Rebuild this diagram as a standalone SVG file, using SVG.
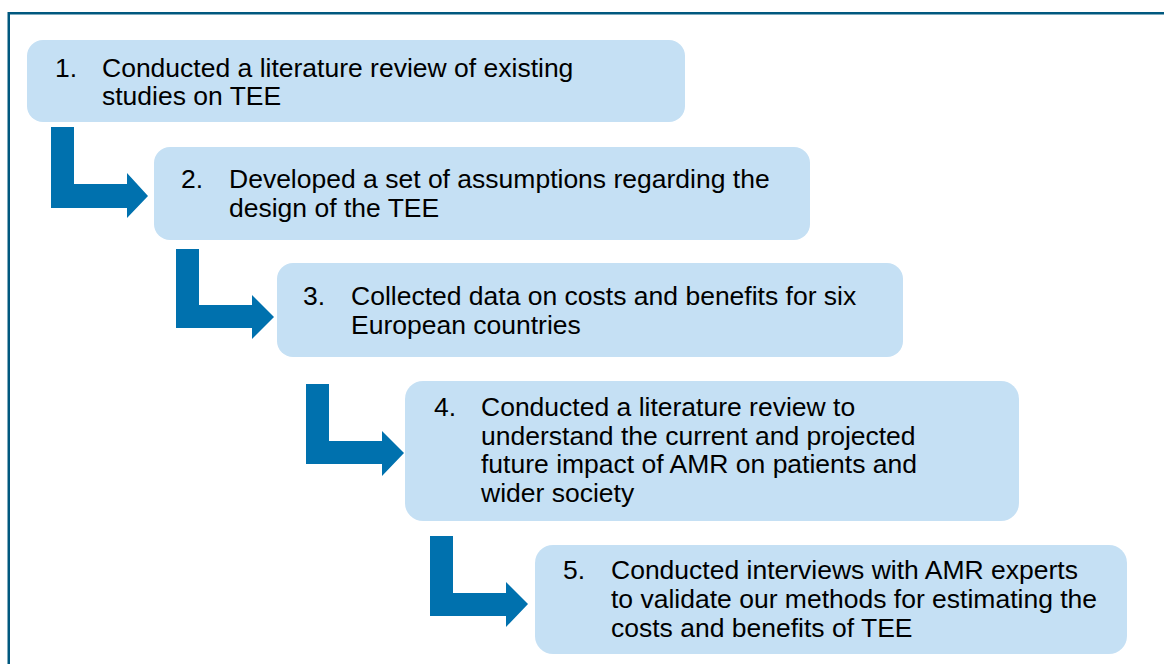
<svg xmlns="http://www.w3.org/2000/svg" width="1164" height="664" viewBox="0 0 1164 664">
  <style>
    .box { fill: #c5e0f4; }
    .t { font-family: "Liberation Sans", Arial, sans-serif; font-size: 26.5px; fill: #000; }
    .arrow { fill: #0071ae; }
  </style>
  <rect width="1164" height="664" fill="#ffffff"/>
  <rect x="8.75" y="13.25" width="1200" height="700" fill="none" stroke="#00587f" stroke-width="2.5"/>
  <g id="connectors">
    <polygon class="arrow" points="51,127 74,127 74,184 127,184 127,173 148,196 127,218 127,208 51,208"/>
    <polygon class="arrow" points="176,249 199,249 199,305 252,305 252,295 274,317 252,339 252,328 176,328"/>
    <polygon class="arrow" points="306,384 329,384 329,441 382,441 382,431 404,453 382,476 382,464 306,464"/>
    <polygon class="arrow" points="430,536 453,536 453,593 506,593 506,582 528,604 506,627 506,616 430,616"/>
  </g>
  <g id="step1">
    <rect class="box" x="27" y="40" width="658" height="82" rx="16"/>
    <text class="t" x="55" y="77">1.</text>
    <text class="t" x="102" y="77">Conducted a literature review of existing</text>
    <text class="t" x="102" y="105">studies on TEE</text>
  </g>
  <g id="step2">
    <rect class="box" x="154" y="147" width="656" height="93" rx="16"/>
    <text class="t" x="181" y="188">2.</text>
    <text class="t" x="229" y="188">Developed a set of assumptions regarding the</text>
    <text class="t" x="229" y="216.5">design of the TEE</text>
  </g>
  <g id="step3">
    <rect class="box" x="277" y="263" width="626" height="94" rx="16"/>
    <text class="t" x="303" y="305">3.</text>
    <text class="t" x="351" y="305">Collected data on costs and benefits for six</text>
    <text class="t" x="351" y="333.5">European countries</text>
  </g>
  <g id="step4">
    <rect class="box" x="405" y="381" width="614" height="140" rx="18"/>
    <text class="t" x="434" y="416">4.</text>
    <text class="t" x="481" y="416">Conducted a literature review to</text>
    <text class="t" x="481" y="444.5">understand the current and projected</text>
    <text class="t" x="481" y="473">future impact of AMR on patients and</text>
    <text class="t" x="481" y="501.5">wider society</text>
  </g>
  <g id="step5">
    <rect class="box" x="535" y="545" width="592" height="109" rx="18"/>
    <text class="t" x="563" y="579">5.</text>
    <text class="t" x="611" y="579">Conducted interviews with AMR experts</text>
    <text class="t" x="611" y="608">to validate our methods for estimating the</text>
    <text class="t" x="611" y="637">costs and benefits of TEE</text>
  </g>
</svg>
